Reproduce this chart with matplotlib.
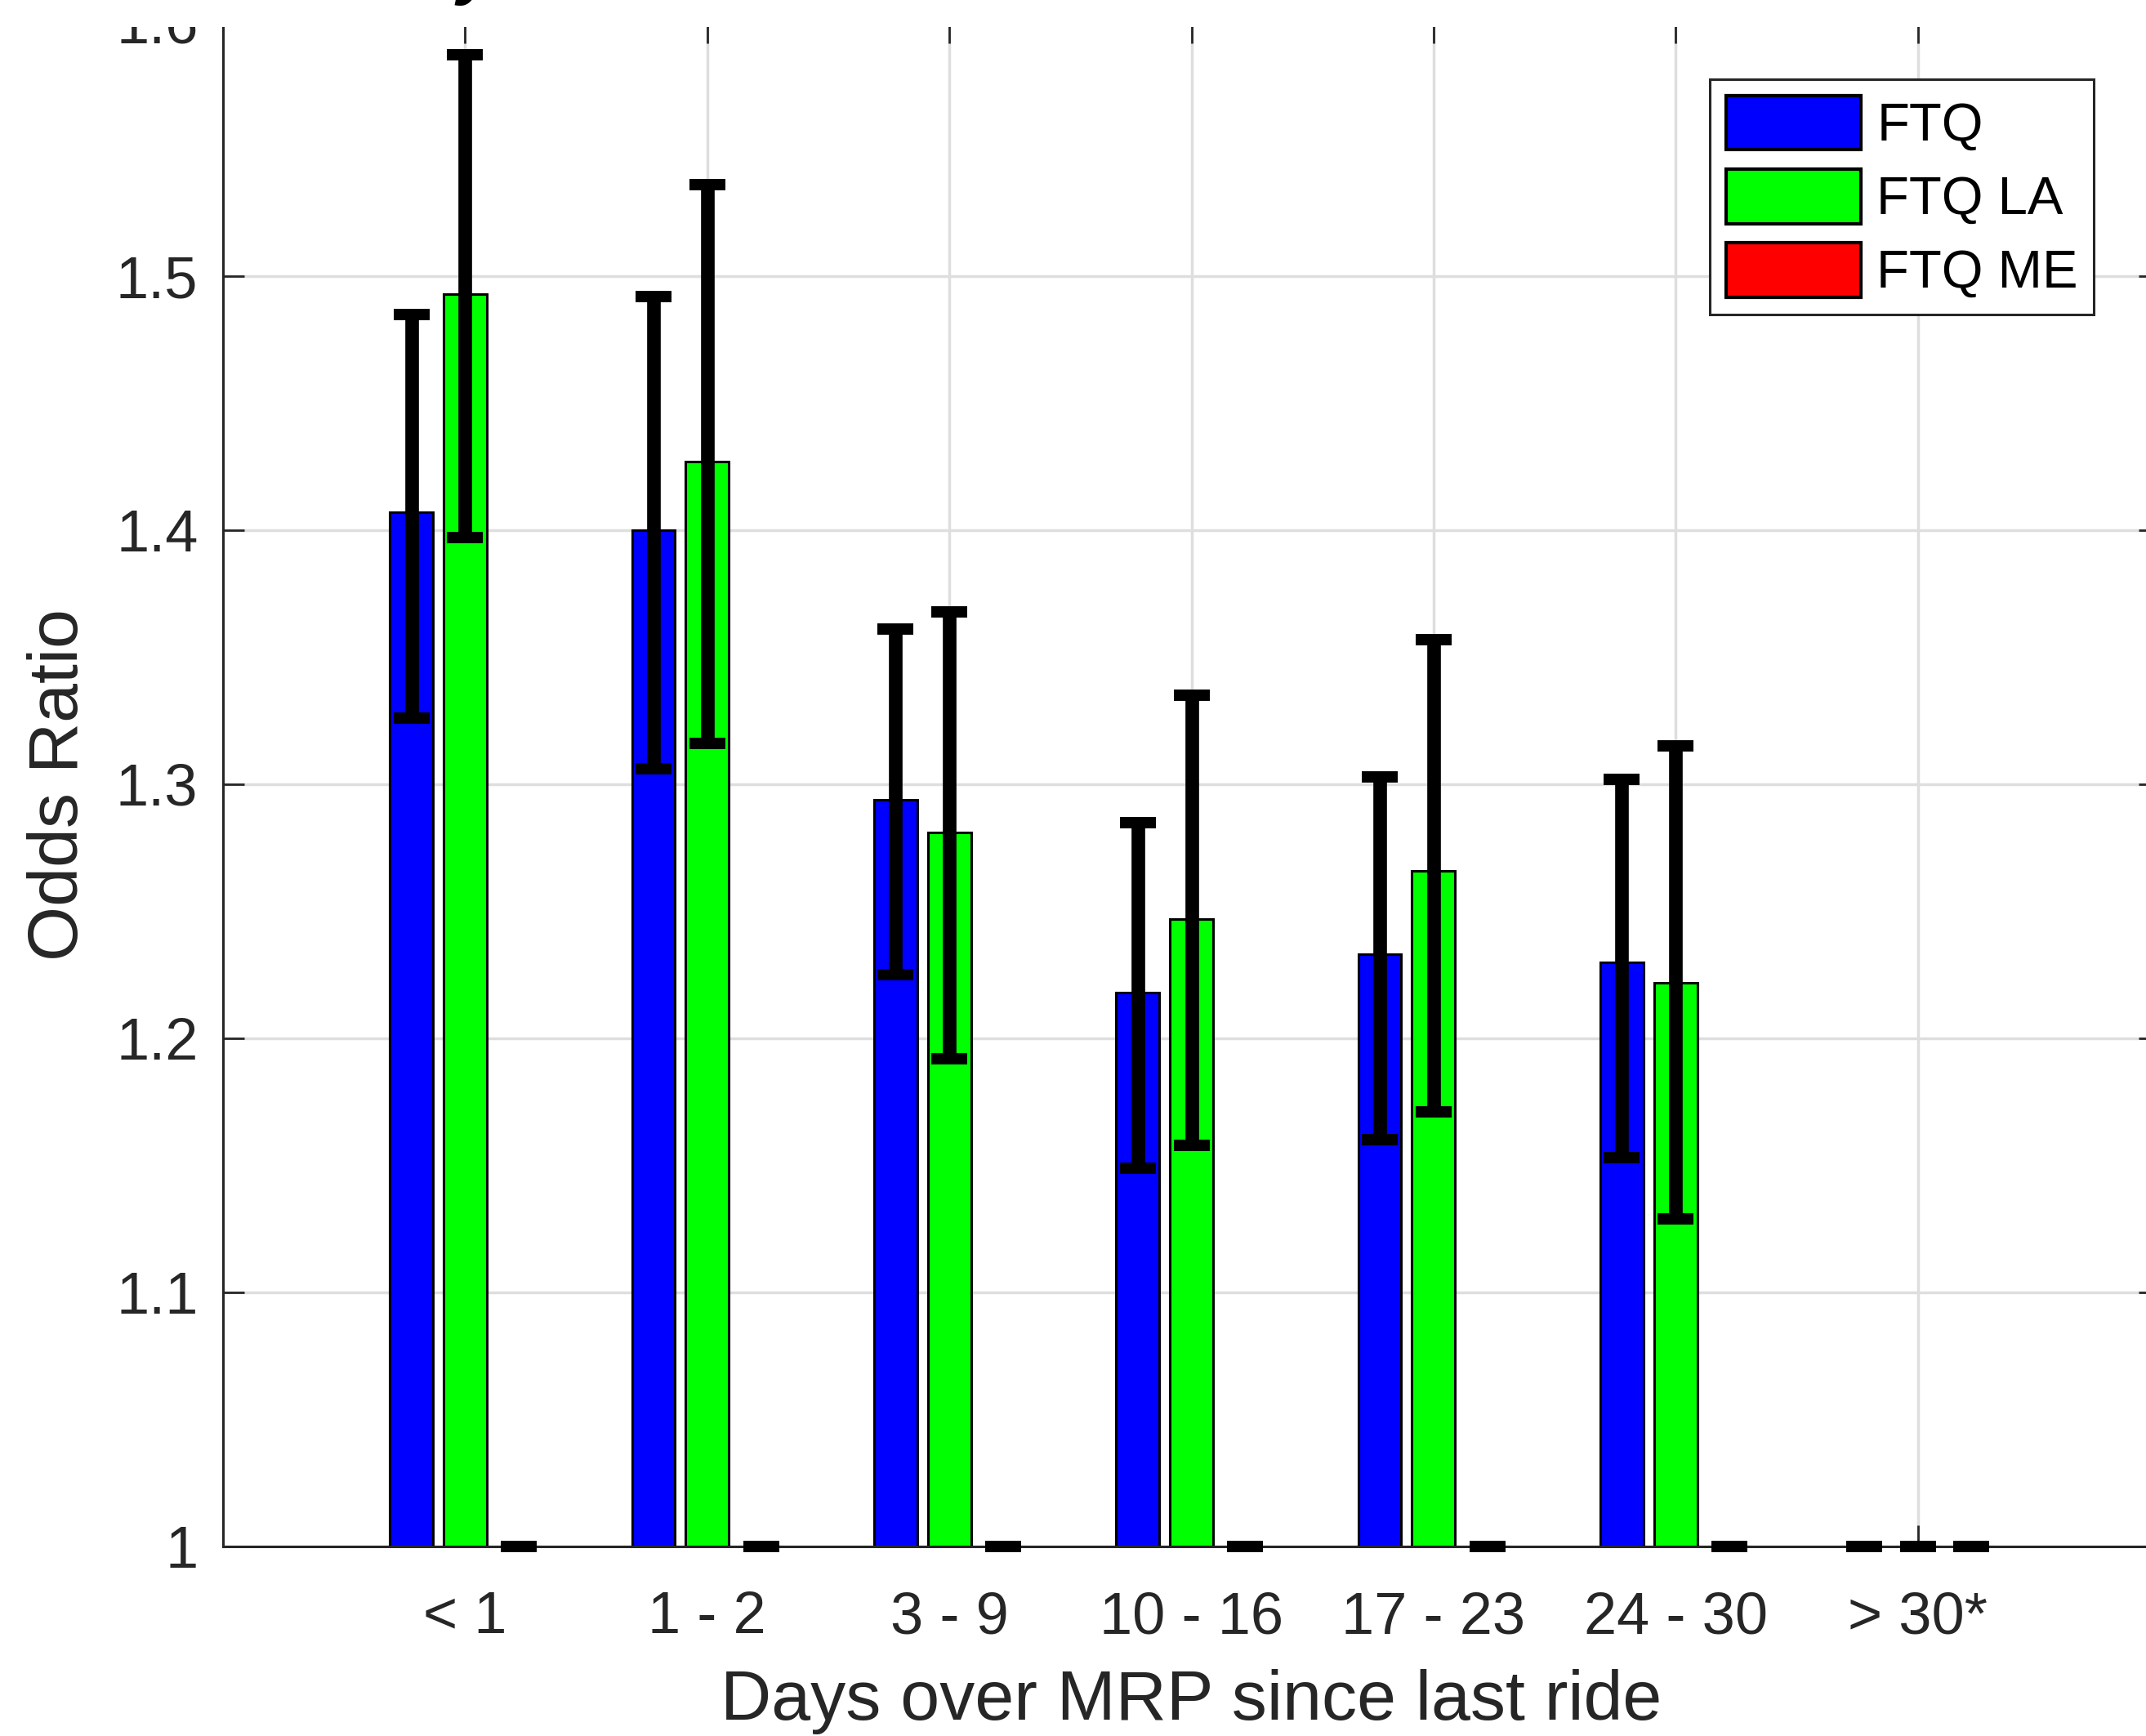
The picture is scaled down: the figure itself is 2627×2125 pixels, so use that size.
import numpy as np
import matplotlib
matplotlib.use('Agg')
import matplotlib.pyplot as plt
from matplotlib.patches import Rectangle

plt.rcParams['font.family'] = ['Liberation Sans', 'DejaVu Sans']

categories = ['< 1', '1 - 2', '3 - 9', '10 - 16', '17 - 23', '24 - 30', '> 30*']
series_names = ['FTQ', 'FTQ LA', 'FTQ ME']
series_colors = ['#0000ff', '#00ff00', '#ff0000']

ftq = [1.407, 1.400, 1.294, 1.218, 1.233, 1.230, 1.0]
ftq_lo = [1.326, 1.306, 1.225, 1.149, 1.160, 1.153, 1.0]
ftq_hi = [1.485, 1.492, 1.361, 1.285, 1.303, 1.302, 1.0]

ftq_la = [1.493, 1.427, 1.281, 1.247, 1.266, 1.222, 1.0]
ftq_la_lo = [1.397, 1.316, 1.192, 1.158, 1.171, 1.129, 1.0]
ftq_la_hi = [1.587, 1.536, 1.368, 1.335, 1.357, 1.315, 1.0]

ftq_me = [1.0, 1.0, 1.0, 1.0, 1.0, 1.0, 1.0]
ftq_me_lo = [1.0, 1.0, 1.0, 1.0, 1.0, 1.0, 1.0]
ftq_me_hi = [1.0, 1.0, 1.0, 1.0, 1.0, 1.0, 1.0]

yticks = [1, 1.1, 1.2, 1.3, 1.4, 1.5, 1.6]
ytick_labels = ['1', '1.1', '1.2', '1.3', '1.4', '1.5', '1.6']

W, H = 2627, 2125
fig = plt.figure(figsize=(W / 100, H / 100), dpi=100)
ax = fig.add_axes([273 / W, (H - 1893) / H, (2644 - 273) / W, (1893 - 27) / H])

dark = '#262626'
x = np.arange(1, len(categories) + 1)
offset = 0.2222
width = 0.178

all_vals = [ftq, ftq_la, ftq_me]
all_lo = [ftq_lo, ftq_la_lo, ftq_me_lo]
all_hi = [ftq_hi, ftq_la_hi, ftq_me_hi]

for k in range(3):
    pos = x + (k - 1) * offset
    vals = np.array(all_vals[k])
    lo = np.array(all_lo[k])
    hi = np.array(all_hi[k])
    ax.bar(pos, vals, width, color=series_colors[k], edgecolor='black',
           linewidth=2.2, label=series_names[k], zorder=2)
    ax.errorbar(pos, vals, yerr=[vals - lo, hi - vals], fmt='none',
                ecolor='black', elinewidth=12, capsize=16, capthick=10,
                zorder=4, clip_on=False)

ax.set_xlim(0, 8)
ax.set_ylim(1, 1.6)
ax.set_xticks(x)
ax.set_xticklabels(categories)
ax.set_yticks(yticks)
ax.set_yticklabels(ytick_labels)

ax.grid(True, color='#dedede', linewidth=2.5, zorder=0)
ax.set_axisbelow(True)

ax.tick_params(direction='in', length=18.7, width=2, colors=dark,
               labelsize=52, top=True, right=True)
ax.tick_params(axis='x', pad=39)
ax.tick_params(axis='y', pad=22)

for s in ax.spines.values():
    s.set_color(dark)
    s.set_linewidth(2.2)

ax.set_xlabel('Days over MRP since last ride', fontsize=62, color=dark, labelpad=21)
ax.set_ylabel('Odds Ratio', fontsize=62, color=dark, labelpad=21)

leg = ax.legend(loc='upper left', bbox_to_anchor=(2093 / W, 1 - 97 / H),
                bbox_transform=fig.transFigure, borderaxespad=0,
                fontsize=47, handlelength=2.53, handleheight=1.2,
                labelspacing=0.33, handletextpad=0.3, borderpad=0.3,
                fancybox=False, framealpha=1)
leg.get_frame().set_edgecolor(dark)
leg.get_frame().set_linewidth(2.2)
for h in leg.legend_handles:
    h.set_linewidth(3)

# top strip of the figure is cut off in the reference
cover = Rectangle((0, 1 - 33 / H), 1, 33 / H, transform=fig.transFigure,
                  facecolor='white', edgecolor='none', zorder=10)
fig.add_artist(cover)
fig.text(583 / W, 1 + 10 / H, 'y', fontsize=60, fontweight='bold',
         fontstyle='italic', ha='center', va='baseline', zorder=11)

fig.savefig('out.png', dpi=100)
